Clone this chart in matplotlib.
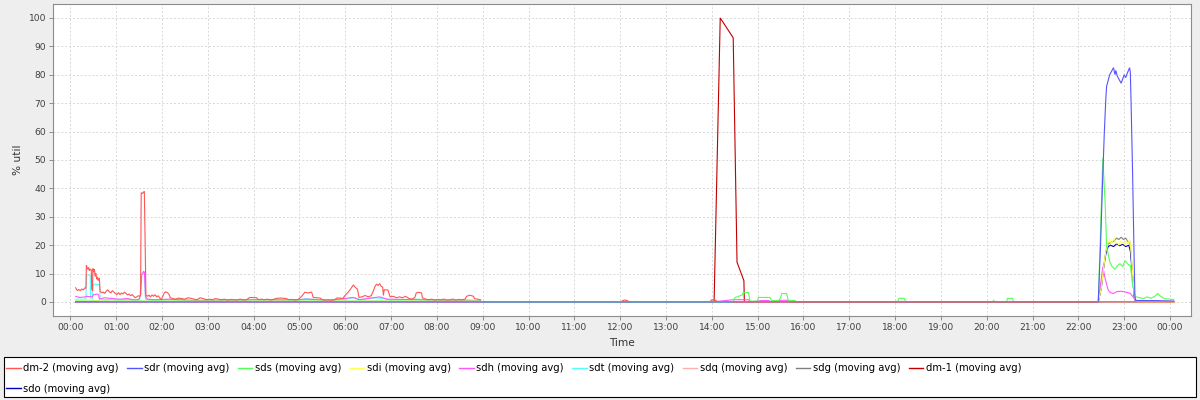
import numpy as np
import matplotlib
matplotlib.use("Agg")
import matplotlib.pyplot as plt
from matplotlib.lines import Line2D
from matplotlib.patches import Rectangle

NaN = np.nan

# ---------------------------------------------------------------------------
# Data: (minute of day, % util)
# ---------------------------------------------------------------------------

dm2 = [
    (7, 5.0), (9, 4.0), (11, 4.4), (13, 4.0), (15, 4.6), (17, 4.2), (19, 5.0), (20.5, 4.8),
    (21, 13.0), (22, 12.0), (23, 11.5), (24, 12.2), (25, 11.0), (26, 11.6), (27.5, 11.2),
    (28, 4.5), (29, 4.0), (29.5, 11.8), (30.5, 10.5), (31.5, 11.5), (32.5, 9.0), (33.5, 10.2),
    (34.5, 8.0), (35.5, 8.8), (36.5, 7.5), (38, 8.5), (39, 3.8), (41, 3.2), (43, 3.5), (45, 3.0),
    (47, 3.8), (49, 4.3), (51, 3.6), (53, 3.2), (55, 4.0), (57, 3.5), (59, 3.0), (61, 2.6),
    (63, 3.3), (65, 2.6), (67, 3.2), (69, 2.8), (71, 3.5), (73, 3.0), (75, 2.5), (77, 2.8),
    (79, 2.2), (81, 2.6), (83, 2.0), (85, 1.5), (87, 1.8), (89, 2.2), (91, 2.0), (92, 2.4),
    (92.8, 38.5), (94.5, 38.2), (96.9, 39.0), (99, 2.5), (101, 2.0), (103, 2.4), (105, 1.8),
    (107, 2.5), (109, 2.0), (111, 2.6), (113, 1.8), (115, 2.2), (117, 1.5), (119, 0.8),
    (121, 2.0), (123, 3.2), (125, 3.6), (127, 3.3), (129, 2.8), (131, 1.5), (134, 1.2),
    (138, 1.0), (142, 1.4), (146, 1.2), (150, 1.0), (154, 1.5), (158, 1.3), (162, 1.0),
    (166, 0.8), (170, 1.5), (174, 1.2), (178, 0.8), (182, 1.0), (186, 0.8), (190, 1.2),
    (194, 1.0), (198, 0.8), (202, 1.0), (206, 0.7), (210, 0.9), (214, 0.8), (218, 0.7),
    (222, 1.0), (226, 0.8), (230, 0.7), (235, 1.6), (244, 1.5), (246, 0.8), (250, 1.0),
    (254, 0.8), (258, 1.0), (262, 0.7), (266, 0.9), (270, 1.3), (276, 1.4), (283, 1.2),
    (286, 0.8), (290, 0.9), (294, 0.7), (298, 0.8), (303, 2.0), (307, 3.4), (312, 3.2),
    (316, 3.5), (318, 1.6), (323, 1.5), (327, 1.4), (330, 0.8), (334, 0.7), (338, 0.8),
    (342, 0.6), (346, 0.8), (349, 1.4), (357, 1.3), (360, 2.4), (363, 3.2), (366, 4.2),
    (368, 5.0), (370.6, 6.0), (373, 5.2), (376, 4.5), (378, 1.6), (382, 1.8), (386, 2.3),
    (390, 1.8), (394, 2.2), (397, 4.0), (399, 5.5), (401, 6.3), (403, 5.8), (405, 6.5),
    (407, 5.5), (409, 5.2), (410, 2.3), (411, 4.3), (416, 4.2), (418.6, 1.8), (423, 2.0),
    (427, 1.5), (431, 1.8), (435, 1.5), (439, 2.0), (443, 1.3), (447, 1.0), (451, 1.5),
    (453, 3.2), (456, 3.4), (460, 3.2), (461, 1.5), (465, 1.0), (469, 0.8), (473, 1.0),
    (477, 0.7), (481, 0.9), (485, 0.8), (489, 1.0), (493, 0.7), (497, 0.8), (501, 1.0),
    (505, 0.7), (509, 0.9), (513, 0.8), (517, 1.0), (519, 2.0), (523, 2.4), (528, 2.0),
    (529, 1.2), (533, 1.0), (537, 0.8), (538, NaN),
    (723, 0.5), (727, 0.7), (730, 0.4), (731, NaN),
    (838, 0.3), (840, 0.8), (845, 0.6), (847, 0.2), (848, NaN),
    (868, 0.0), (1445, 0.0),
]

sdr = [
    (7, 0.0), (537, 0.0), (1346, 0.0), (1349, 20.0), (1352, 45.0), (1354, 60.0), (1356, 72.0),
    (1357, 76.0), (1359, 78.0), (1361, 80.0), (1363, 81.0), (1366, 82.5), (1368, 80.0),
    (1369, 81.5), (1371, 79.5), (1373, 78.5), (1376, 77.0), (1378, 78.5), (1380, 80.0),
    (1382, 79.0), (1384, 80.5), (1387, 82.5), (1388, 81.0), (1389, 70.0), (1391, 45.0),
    (1393, 15.0), (1394, 2.0), (1395, 0.5), (1420, 0.5), (1445, 0.3),
]

sds = [
    (7, 0.3), (537, 0.3), (540, 0.0), (868, 0.0), (870, 1.5), (875, 2.0), (880, 2.5),
    (881, 3.3), (888, 3.3), (890, 0.3), (900, 0.3), (901, 1.6), (916, 1.6), (918, 0.5),
    (928, 0.6), (930, 1.5), (931.5, 3.0), (938, 3.0), (940, 0.6), (949, 0.5), (951, 0.0),
    (1083, 0.0), (1085, 1.3), (1092, 1.3), (1094, 0.0), (1208, 0.0), (1209, 0.7), (1210, 0.0),
    (1226, 0.0), (1227, 1.3), (1234, 1.3), (1235, 0.0), (1346, 0.0), (1349, 25.0),
    (1352, 50.6), (1355, 35.0), (1357, 19.5), (1361, 14.2), (1364, 12.5), (1368, 11.5),
    (1371, 12.8), (1374.5, 13.5), (1378, 12.5), (1381, 14.5), (1383, 14.0), (1386, 13.0),
    (1388, 13.0), (1391, 6.0), (1394.5, 1.9), (1400, 1.5), (1405, 1.2), (1410, 1.8),
    (1415, 1.3), (1420, 2.0), (1424, 3.0), (1427, 2.2), (1432, 1.2), (1440, 1.0), (1445, 0.8),
]

sdi = [
    (7, 0.7), (20, 0.7), (21, 1.0), (30, 0.6), (40, 0.3), (537, 0.3), (540, 0.0), (1346, 0.0),
    (1350, 5.0), (1353, 12.0), (1356, 18.0), (1359, 21.0), (1361, 22.0), (1363, 20.5),
    (1365, 21.5), (1367, 22.5), (1369, 20.5), (1371, 21.0), (1373, 20.0), (1375, 21.5),
    (1377, 20.5), (1379, 21.0), (1381, 20.0), (1383, 21.5), (1385, 20.5), (1387, 22.0),
    (1389, 18.0), (1391, 10.0), (1393, 3.0), (1395, 0.5), (1400, 0.0), (1445, 0.0),
]

sdh = [
    (7, 2.0), (12, 1.6), (20, 1.8), (21, 2.0), (29, 1.8), (30, 2.5), (35, 2.8), (37, 2.5),
    (38, 1.0), (45, 1.5), (55, 1.2), (65, 1.0), (75, 1.2), (85, 0.7), (90, 1.0), (92, 2.5),
    (93.5, 9.5), (96, 10.8), (97, 10.5), (98.5, 2.0), (101, 1.0), (110, 0.8), (130, 1.0),
    (160, 0.6), (200, 0.6), (240, 0.8), (280, 0.7), (310, 1.0), (340, 0.6), (370, 1.6),
    (378, 0.8), (405, 1.8), (415, 1.0), (455, 0.8), (500, 0.5), (537, 0.4), (540, 0.0),
    (840, 0.0), (868, 0.8), (888, 0.8), (890, 0.0), (905, 0.5), (915, 0.5), (916, 0.0),
    (932, 0.6), (938, 0.6), (945, 0.0), (1346, 0.0), (1352, 12.4), (1355, 8.3), (1359, 4.2),
    (1362, 3.3), (1366, 3.0), (1370, 3.6), (1375, 3.8), (1380, 3.6), (1385, 3.3), (1388, 3.0),
    (1391, 2.0), (1394, 0.8), (1400, 0.3), (1445, 0.2),
]

sdt = [
    (7, 1.0), (20.5, 1.0), (21, 9.5), (26, 9.5), (26.6, 1.5), (29, 1.2), (29.5, 5.0), (31, 6.3),
    (36, 6.0), (38, 6.3), (39, 1.2), (45, 0.8), (55, 1.0), (65, 0.7), (75, 0.9), (85, 0.6),
    (91, 0.8), (92.8, 9.5), (95, 10.0), (96.9, 10.5), (98.5, 1.0), (110, 0.6), (130, 0.8),
    (160, 0.5), (200, 0.6), (240, 0.8), (270, 0.9), (300, 0.6), (308, 1.2), (330, 0.6),
    (362, 1.0), (372, 1.6), (380, 0.8), (400, 1.5), (410, 1.2), (420, 0.7), (455, 1.0),
    (480, 0.5), (520, 0.8), (537, 0.4), (540, 0.0), (1445, 0.0),
]

sdq = [(7, 0.0), (1445, 0.0)]

sdg = [
    (7, 0.0), (1346, 0.0), (1350, 5.0), (1353, 12.0), (1356, 18.0), (1359, 20.5), (1363, 21.0),
    (1367, 21.5), (1370, 22.5), (1373, 22.0), (1376, 22.8), (1379, 22.0), (1382, 22.5),
    (1385, 21.0), (1387, 21.5), (1389, 17.0), (1391, 9.0), (1393, 2.5), (1395, 0.3), (1445, 0.0),
]

dm1 = [
    (840, 0.0), (843, 0.3), (851, 100.0), (868, 93.0), (873, 14.0), (882, 7.5), (882.6, 0.0),
    (1445, 0.0),
]

sdo = [
    (7, 0.0), (1346, 0.0), (1350, 5.0), (1353, 12.0), (1356, 17.0), (1359, 19.5), (1362, 20.0),
    (1366, 19.5), (1370, 20.5), (1374, 19.8), (1378, 20.3), (1382, 19.5), (1386, 20.0),
    (1388, 18.0), (1391, 9.0), (1393, 2.0), (1395, 0.0), (1445, 0.0),
]

series_names = ["dm-2", "sdr", "sds", "sdi", "sdh", "sdt", "sdq", "sdg", "dm-1", "sdo"]
series_data = [dm2, sdr, sds, sdi, sdh, sdt, sdq, sdg, dm1, sdo]
series_colors = ["#FF5555", "#5555FF", "#55FF55", "#FFFF55", "#FF55FF",
                 "#55FFFF", "#FFAFAF", "#808080", "#C00000", "#0000C0"]

hour_ticks = list(range(25))
hour_labels = [f"{h % 24:02d}:00" for h in hour_ticks]
pct_ticks = list(range(0, 101, 10))

# ---------------------------------------------------------------------------
# Figure
# ---------------------------------------------------------------------------

W, H = 1200, 400
fig = plt.figure(figsize=(W / 100, H / 100), dpi=100, facecolor="#EEEEEE")
ax = fig.add_axes([53.3 / W, 1 - 316 / H, (1190.5 - 53.3) / W, (316 - 4.3) / H])
ax.set_facecolor("white")

# first series ends up on top (JFreeChart reverse render order)
n = len(series_data)
for i, (name, data, col) in enumerate(zip(series_names, series_data, series_colors)):
    t, v = zip(*data)
    ax.plot(np.array(t) / 60.0, v, color=col, lw=0.8, zorder=3 + (n - i),
            solid_joinstyle="miter")

ax.set_xlim(-22.3 / 60, 1466.8 / 60)
ax.set_ylim(-4.93, 104.8)
ax.set_xticks(hour_ticks)
ax.set_xticklabels(hour_labels)
ax.set_yticks(pct_ticks)

ax.grid(True, color="#d8d8d8", linestyle=(0, (2, 2)), linewidth=0.7)
ax.set_axisbelow(True)
for sp in ax.spines.values():
    sp.set_color("#8c8c8c")
    sp.set_linewidth(0.8)

ax.tick_params(axis="both", direction="out", length=3, width=0.7, color="#8c8c8c",
               labelsize=6.6, labelcolor="#404040", pad=2)

ax.set_xlabel("Time", fontsize=7.6, color="#333333", labelpad=4)
ax.set_ylabel("% util", fontsize=7.6, color="#333333", labelpad=4)

# legend in a full-width box under the plot
box = Rectangle((4 / W, 3 / H), 1192 / W, 40 / H, transform=fig.transFigure,
                facecolor="white", edgecolor="black", linewidth=0.8, zorder=1)
fig.patches.append(box)

# legend fills column-first: put sdo second so it wraps under dm-2
order = [0, 9, 1, 2, 3, 4, 5, 6, 7, 8]
handles = [Line2D([], [], color=series_colors[k], lw=1.0) for k in order]
labels = [f"{series_names[k]} (moving avg)" for k in order]
fig.legend(handles, labels, loc="upper left", bbox_to_anchor=(6 / W, 1 - 363 / H),
           ncol=9, frameon=False, fontsize=7.2, handlelength=1.45, handletextpad=0.25,
           columnspacing=0.85, borderpad=0, borderaxespad=0, labelspacing=1.05)

fig.savefig("out.png", dpi=100, facecolor=fig.get_facecolor())
